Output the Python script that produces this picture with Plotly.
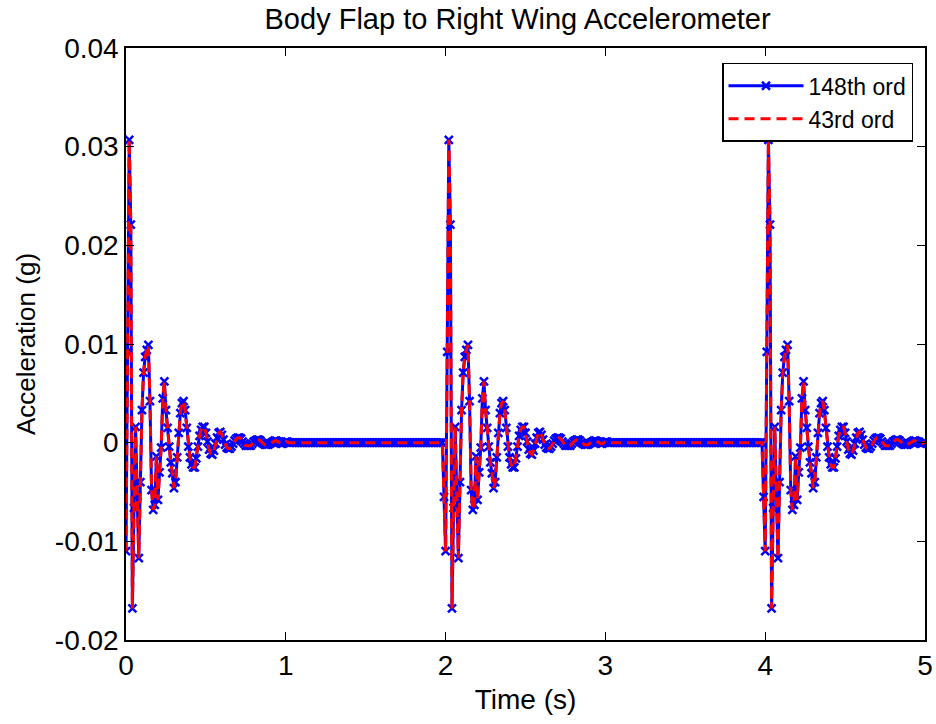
import numpy as np
import plotly.graph_objects as go

# ---------------- data ----------------
sample_dt = 0.01          # s
t_end = 5.0               # s
pulse_starts = [0.0, 2.0, 4.0]   # s, body-flap pulse times
pulse_lead = -0.0055      # sample just before each pulse
# acceleration (g) after each pulse, one value per sample (0.00 s, 0.01 s, ...)
pulse_response = [
    -0.0110, 0.0092, 0.0307, 0.0221, -0.0168, -0.0066, 0.0016, -0.0054, -0.0117, -0.0040,
    0.0033, 0.0071, 0.0087, 0.0094, 0.0099, 0.0042, -0.0048, -0.0068, -0.0063, -0.0014,
    -0.0058, -0.0030, -0.0005, 0.0045, 0.0062, 0.0033, 0.0015, -0.0004, -0.0020, -0.0031,
    -0.0046, -0.0040, -0.0015, 0.0010, 0.0030, 0.0040, 0.0042, 0.0033, 0.0015, -0.0004,
    -0.0015, -0.0022, -0.0025, -0.0025, -0.0016, -0.0004, 0.0007, 0.0013, 0.0016, 0.0016,
    0.0010, 0.0001, -0.0007, -0.0011, -0.0012, -0.0008, -0.0001, 0.0005, 0.0010, 0.0011,
    0.0008, 0.0003, -0.0002, -0.0005, -0.0006, -0.0006, -0.0004, -0.0001, 0.0002, 0.0004,
    0.0005, 0.0005, 0.0004, 0.0001, -0.0001, -0.0003, -0.0003, -0.0003, -0.0003, -0.0001,
    0.0001, 0.0002, 0.0003, 0.0003, 0.0002, 0.0000, -0.0001, -0.0002, -0.0002, -0.0002,
    -0.0001, 0.0000, 0.0001, 0.0002, 0.0002, 0.0001, 0.0000, -0.0001, -0.0001, 0.0000,
    0.0001, 0.0001, 0.0000,
]
series_names = ["148th ord", "43rd ord"]
x_tickvals = [0, 1, 2, 3, 4, 5]
y_tickvals = [-0.02, -0.01, 0, 0.01, 0.02, 0.03, 0.04]
y_ticktext = ["-0.02", "-0.01", "0", "0.01", "0.02", "0.03", "0.04"]

# ------------- assemble sampled series -------------
n = int(round(t_end / sample_dt)) + 1
time = np.round(np.arange(n) * sample_dt, 4)
accel = np.zeros(n)
for s in pulse_starts:
    i0 = int(round(s / sample_dt))
    if i0 - 1 >= 0:
        accel[i0 - 1] = pulse_lead
    for k, v in enumerate(pulse_response):
        if i0 + k < n:
            accel[i0 + k] = v
accel_148 = accel
accel_43 = accel.copy()

# ---------------- figure ----------------
fig = go.Figure()
fig.add_trace(go.Scatter(
    x=time, y=accel_148, name=series_names[0], mode="lines+markers",
    line=dict(color="rgb(0,0,255)", width=3),
    marker=dict(symbol="x-thin", size=8, color="rgb(0,0,255)",
                line=dict(color="rgb(0,0,255)", width=2.5)),
))
fig.add_trace(go.Scatter(
    x=time, y=accel_43, name=series_names[1], mode="lines",
    line=dict(color="rgb(255,0,0)", width=3, dash="10px,6px"),
))

font_family = "Liberation Sans, Arial, sans-serif"
axis_common = dict(
    showline=True, linecolor="black", linewidth=1.5, mirror="ticks",
    ticks="inside", ticklen=8, tickwidth=1, tickcolor="black",
    showgrid=False, zeroline=False, automargin=False,
    tickfont=dict(family=font_family, size=28, color="black"),
)
fig.update_layout(
    width=936, height=724, autosize=False,
    margin=dict(l=126, r=11, t=48, b=84, pad=0),
    paper_bgcolor="white", plot_bgcolor="white",
    font=dict(family=font_family, color="black"),
    title=dict(text="Body Flap to Right Wing Accelerometer", x=0.553, xanchor="center",
               y=1 - 19 / 724, yanchor="middle",
               font=dict(family=font_family, size=29, color="black")),
    xaxis=dict(range=[0, 5], tickvals=x_tickvals,
               title=dict(text="Time (s)", font=dict(size=28), standoff=9),
               **axis_common),
    yaxis=dict(range=[-0.02, 0.04], tickvals=y_tickvals, ticktext=y_ticktext,
               title=dict(text="Acceleration (g)", font=dict(size=26), standoff=12),
               **axis_common),
    legend=dict(x=0.985, y=0.975, xanchor="right", yanchor="top",
                bgcolor="white", bordercolor="black", borderwidth=1.5,
                font=dict(family=font_family, size=23, color="black"),
                itemwidth=75, tracegroupgap=0),
    showlegend=True,
)

fig.write_html("out.html")
